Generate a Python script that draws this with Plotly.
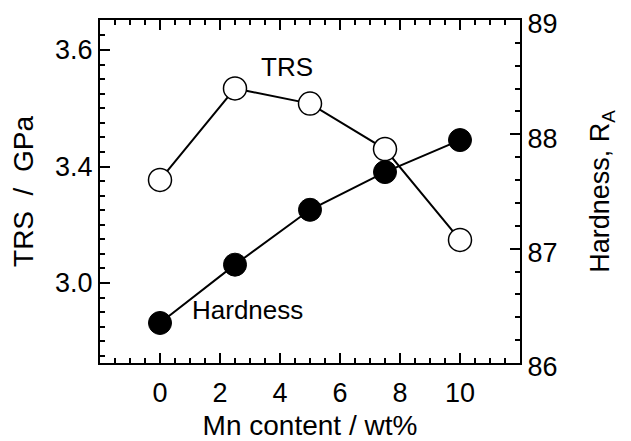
import plotly.graph_objects as go

mn_content = [0, 2.5, 5, 7.5, 10]
trs_gpa = [3.377, 3.534, 3.508, 3.430, 3.274]
hardness_ra = [86.35, 86.86, 87.34, 87.67, 87.95]

x_tick_vals = [0, 2, 4, 6, 8, 10]
x_tick_labels = ["0", "2", "4", "6", "8", "10"]
trs_tick_vals = [3.2, 3.4, 3.6]
trs_tick_labels = ["3.0", "3.4", "3.6"]
hard_tick_vals = [86, 87, 88, 89]
hard_tick_labels = ["86", "87", "88", "89"]

FONT = "Liberation Sans, Arial, Helvetica, sans-serif"
fig = go.Figure()

fig.add_trace(go.Scatter(
    x=mn_content, y=trs_gpa, yaxis="y", mode="lines+markers",
    line=dict(color="black", width=2),
    marker=dict(size=23, color="white", line=dict(color="black", width=1.5)),
    showlegend=False, cliponaxis=False))

fig.add_trace(go.Scatter(
    x=mn_content, y=hardness_ra, yaxis="y2", mode="lines+markers",
    line=dict(color="black", width=2),
    marker=dict(size=23, color="black", line=dict(color="black", width=1)),
    showlegend=False, cliponaxis=False))

axis_common = dict(showline=True, linecolor="black", linewidth=2, showgrid=False,
                   zeroline=False, ticks="inside", tickcolor="black",
                   tickwidth=1.5, ticklen=10, automargin=False,
                   ticklabeloverflow="allow",
                   tickfont=dict(family=FONT, size=27, color="black"))

fig.update_layout(
    width=631, height=441,
    margin=dict(l=92, r=119, t=12, b=86),
    paper_bgcolor="white", plot_bgcolor="white",
    xaxis=dict(range=[-2, 12], tickvals=x_tick_vals, ticktext=x_tick_labels,
               mirror="ticks", ticklabelstandoff=5,
               minor=dict(dtick=0.5, tick0=0, ticks="inside", ticklen=5,
                          tickcolor="black", tickwidth=1.5),
               title=dict(text="Mn content / wt%", standoff=8,
                          font=dict(family=FONT, size=28, color="black")),
               **axis_common),
    yaxis=dict(range=[3.0627, 3.6515], tickvals=trs_tick_vals, ticktext=trs_tick_labels,
               minor=dict(dtick=0.025, tick0=3.2, ticks="inside", ticklen=5,
                          tickcolor="black", tickwidth=1.5),
               title=dict(text="TRS  /  GPa", standoff=14,
                          font=dict(family=FONT, size=28, color="black")),
               **axis_common),
    yaxis2=dict(range=[86, 89], overlaying="y", side="right",
                tickvals=hard_tick_vals, ticktext=hard_tick_labels,
                ticklabelshift=4,
                minor=dict(dtick=0.2, tick0=86, ticks="inside", ticklen=5,
                           tickcolor="black", tickwidth=1.5),
                title=dict(text="Hardness, R<sub>A</sub>", standoff=34,
                           font=dict(family=FONT, size=27, color="black")),
                **axis_common),
    annotations=[
        dict(x=4.22, y=3.570, xref="x", yref="y", text="TRS", showarrow=False,
             font=dict(family=FONT, size=26, color="black")),
        dict(x=2.93, y=86.46, xref="x", yref="y2", text="Hardness", showarrow=False,
             font=dict(family=FONT, size=26, color="black")),
    ],
)

fig.write_html("out.html")
